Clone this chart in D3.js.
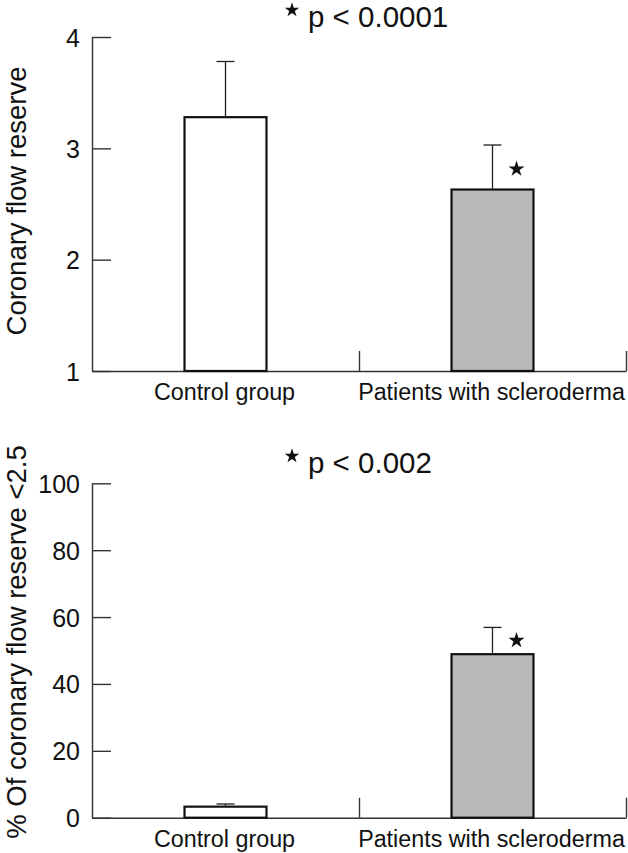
<!DOCTYPE html>
<html><head><meta charset="utf-8">
<script src="https://cdn.jsdelivr.net/npm/d3@7"></script>
<style>
html,body{margin:0;padding:0;background:#fff;}
svg{display:block;}
text{font-family:"Liberation Sans",Arial,sans-serif;fill:#111;}
</style></head>
<body>
<svg id="c" width="628" height="853"></svg>
<script>
const categories = ["Control group", "Patients with scleroderma"];
const cfrMean = [3.28, 2.63];
const cfrErr = [3.78, 3.03];
const pctMean = [3.3, 48.9];
const pctErr = [4.1, 56.9];
const cfrTicks = [1, 2, 3, 4];
const pctTicks = [0, 20, 40, 60, 80, 100];
const fills = ["#ffffff", "#b9b9b9"];
const significant = [false, true];

const svg = d3.select("#c");

function panel(opts) {
  const g = svg.append("g");
  const x0 = 92, x1 = 626;
  const y = d3.scaleLinear().domain(opts.domain).range([opts.yBottom, opts.yTop]);
  const band = d3.scaleBand().domain(categories).range([x0, x1]).padding(0);
  const bw = band.bandwidth() * 0.307;

  // y axis
  const ya = g.append("g").attr("transform", `translate(${x0},0)`)
    .call(d3.axisLeft(y).tickValues(opts.ticks).tickSizeInner(-19).tickSizeOuter(0).tickPadding(12).tickFormat(d3.format("d")));
  ya.selectAll("path,line").attr("stroke", "#333").attr("stroke-width", 1.4);
  ya.selectAll("text").attr("font-size", 25).attr("font-family", "Liberation Sans, Arial, sans-serif").attr("fill", "#111").attr("dy", "0.36em");

  // x axis (boundary ticks)
  const xb = d3.scaleLinear().domain([0, 2]).range([x0, x1]);
  const xa = g.append("g").attr("transform", `translate(0,${opts.yBottom})`)
    .call(d3.axisTop(xb).tickValues([1, 2]).tickSizeInner(20).tickSizeOuter(0).tickFormat(""));
  xa.selectAll("path,line").attr("stroke", "#333").attr("stroke-width", 1.4);

  // bars
  const cx = d => band(d) + band.bandwidth() / 2;
  g.selectAll("rect.bar").data(categories).enter().append("rect")
    .attr("x", d => cx(d) - bw / 2)
    .attr("y", (d, i) => y(opts.mean[i]))
    .attr("width", bw)
    .attr("height", (d, i) => y(opts.domain[0]) - y(opts.mean[i]))
    .attr("fill", (d, i) => fills[i])
    .attr("stroke", "#111").attr("stroke-width", 2.2);

  // error bars
  const eb = g.selectAll("g.err").data(categories).enter().append("g");
  eb.append("line")
    .attr("x1", d => cx(d)).attr("x2", d => cx(d))
    .attr("y1", (d, i) => y(opts.mean[i])).attr("y2", (d, i) => y(opts.err[i]))
    .attr("stroke", "#222").attr("stroke-width", 1.3);
  eb.append("line")
    .attr("x1", d => cx(d) - 9).attr("x2", d => cx(d) + 9)
    .attr("y1", (d, i) => y(opts.err[i])).attr("y2", (d, i) => y(opts.err[i]))
    .attr("stroke", "#222").attr("stroke-width", 1.3);

  // significance stars
  const star = d3.symbol().type(d3.symbolStar).size(80);
  g.selectAll("path.sig").data(categories.filter((d, i) => significant[i])).enter().append("path")
    .attr("d", star)
    .attr("transform", d => {
      const i = categories.indexOf(d);
      return `translate(${cx(d) + 24},${y(opts.err[i]) + opts.starOff})`;
    })
    .attr("fill", "#111");

  // category labels
  g.selectAll("text.cat").data(categories).enter().append("text")
    .attr("x", d => cx(d) - 1).attr("y", opts.yBottom + 29)
    .attr("text-anchor", "middle").attr("font-size", 23.3)
    .text(d => d);

  // title
  g.append("path").attr("d", d3.symbol().type(d3.symbolStar).size(66))
    .attr("transform", `translate(292,${opts.titleY - 17})`).attr("fill", "#111");
  g.append("text").attr("x", 308).attr("y", opts.titleY)
    .attr("font-size", 29.5).text(opts.title);

  // y label
  g.append("text")
    .attr("transform", `translate(26,${opts.labelCy}) rotate(-90)`)
    .attr("text-anchor", "middle").attr("font-size", 27.5)
    .text(opts.ylabel);
}

panel({domain: [1, 4], yTop: 37, yBottom: 371, ticks: cfrTicks, mean: cfrMean, err: cfrErr,
  title: "p < 0.0001", titleY: 27, ylabel: "Coronary flow reserve", labelCy: 201, starOff: 24});
panel({domain: [0, 100], yTop: 483.3, yBottom: 817.7, ticks: pctTicks, mean: pctMean, err: pctErr,
  title: "p < 0.002", titleY: 473, ylabel: "% Of coronary flow reserve <2.5", labelCy: 642, starOff: 13});
</script>
</body></html>
